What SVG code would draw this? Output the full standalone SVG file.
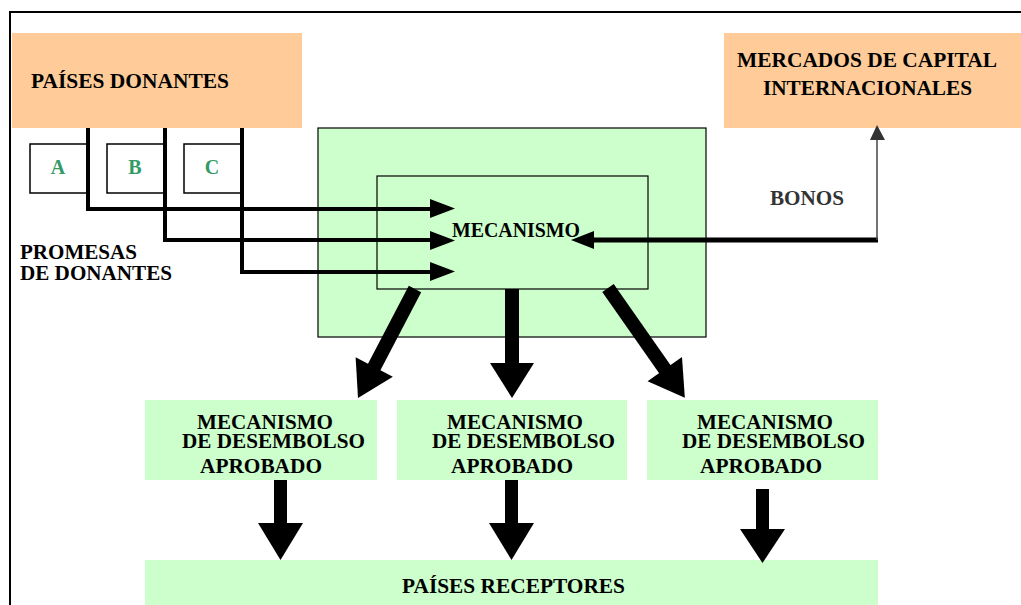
<svg xmlns="http://www.w3.org/2000/svg" width="1021" height="605" viewBox="0 0 1021 605">
<style>
.t{font-family:"Liberation Serif","Times New Roman",serif;font-weight:bold;fill:#000}
.orange{fill:#FFCC99}
.green{fill:#CCFFCC}
.abc{fill:#fff;stroke:#000;stroke-width:1.5}
.letter{font-family:"Liberation Serif","Times New Roman",serif;font-weight:bold;font-size:20px;fill:#339966}
.conn{fill:none;stroke:#000;stroke-width:4}
.big{fill:#000}
</style>
<rect width="1021" height="605" fill="#fff"/>
<path d="M10,605 V12 H1021" fill="none" stroke="#000" stroke-width="2"/>

<g id="paises-donantes">
<rect class="orange" x="12" y="33" width="290" height="95"/>
<text class="t" x="31" y="88" font-size="21" textLength="198" lengthAdjust="spacingAndGlyphs">PAÍSES DONANTES</text>
</g>
<g id="donante-a"><rect class="abc" x="30" y="144" width="58" height="49"/><text class="letter" x="58" y="174" text-anchor="middle">A</text></g>
<g id="donante-b"><rect class="abc" x="107" y="144" width="57" height="49"/><text class="letter" x="135" y="174" text-anchor="middle">B</text></g>
<g id="donante-c"><rect class="abc" x="184" y="144" width="57" height="49"/><text class="letter" x="212" y="174" text-anchor="middle">C</text></g>
<g id="promesas">
<text class="t" x="20" y="259" font-size="21" textLength="117" lengthAdjust="spacingAndGlyphs">PROMESAS</text>
<text class="t" x="20" y="280" font-size="21" textLength="152" lengthAdjust="spacingAndGlyphs">DE DONANTES</text>
</g>

<g id="mercados">
<rect class="orange" x="724" y="33" width="297" height="95"/>
<text class="t" x="737" y="67" font-size="21" textLength="260" lengthAdjust="spacingAndGlyphs">MERCADOS DE CAPITAL</text>
<text class="t" x="763" y="95" font-size="21" textLength="209" lengthAdjust="spacingAndGlyphs">INTERNACIONALES</text>
</g>

<g id="mecanismo">
<rect class="green" x="318" y="128" width="388" height="209" stroke="#000" stroke-width="1.2"/>
<rect class="green" x="377" y="176" width="271" height="113" stroke="#000" stroke-width="1.2"/>
<text class="t" x="452" y="237" font-size="20" textLength="128" lengthAdjust="spacingAndGlyphs">MECANISMO</text>
</g>

<g id="bonos-label">
<text class="t" x="770" y="205" font-size="21" style="fill:#333" textLength="74" lengthAdjust="spacingAndGlyphs">BONOS</text>
</g>

<g id="desembolso-1">
<rect class="green" x="145" y="400" width="232" height="80"/>
<text class="t" x="197" y="429" font-size="21" textLength="136" lengthAdjust="spacingAndGlyphs">MECANISMO</text>
<text class="t" x="182" y="448" font-size="21" textLength="183" lengthAdjust="spacingAndGlyphs">DE DESEMBOLSO</text>
<text class="t" x="200" y="473" font-size="21" textLength="122" lengthAdjust="spacingAndGlyphs">APROBADO</text>
</g>
<g id="desembolso-2">
<rect class="green" x="397" y="400" width="230" height="80"/>
<text class="t" x="447" y="429" font-size="21" textLength="136" lengthAdjust="spacingAndGlyphs">MECANISMO</text>
<text class="t" x="432" y="448" font-size="21" textLength="183" lengthAdjust="spacingAndGlyphs">DE DESEMBOLSO</text>
<text class="t" x="451" y="473" font-size="21" textLength="122" lengthAdjust="spacingAndGlyphs">APROBADO</text>
</g>
<g id="desembolso-3">
<rect class="green" x="647" y="400" width="231" height="80"/>
<text class="t" x="697" y="429" font-size="21" textLength="136" lengthAdjust="spacingAndGlyphs">MECANISMO</text>
<text class="t" x="682" y="448" font-size="21" textLength="183" lengthAdjust="spacingAndGlyphs">DE DESEMBOLSO</text>
<text class="t" x="700" y="473" font-size="21" textLength="122" lengthAdjust="spacingAndGlyphs">APROBADO</text>
</g>

<g id="paises-receptores">
<rect class="green" x="145" y="560" width="733" height="45"/>
<text class="t" x="402" y="593" font-size="21" textLength="223" lengthAdjust="spacingAndGlyphs">PAÍSES RECEPTORES</text>
</g>

<g id="connectors">
<path class="conn" d="M88,128 V209 H432"/>
<polygon class="big" points="430,199 455,208.5 430,218"/>
<path class="conn" d="M165,128 V240 H432"/>
<polygon class="big" points="430,231 455,240.5 430,250"/>
<path class="conn" d="M242,128 V272 H432"/>
<polygon class="big" points="430,262 455,271.5 430,281"/>
<path d="M878,240 H590" fill="none" stroke="#000" stroke-width="5"/>
<polygon class="big" points="594,231 571,240 594,249"/>
<path d="M877,240 V138" fill="none" stroke="#444" stroke-width="1.5"/>
<polygon points="870,140 877,125 885,140" fill="#333"/>

<g transform="translate(415,289) rotate(27.6)">
<rect class="big" x="-7" y="0" width="14" height="90"/>
<polygon class="big" points="-21,88 21,88 0,123"/>
</g>
<g transform="translate(512,289)">
<rect class="big" x="-7" y="0" width="14" height="76"/>
<polygon class="big" points="-22,74 22,74 0,109"/>
</g>
<g transform="translate(608,288) rotate(-35)">
<rect class="big" x="-7" y="0" width="14" height="101"/>
<polygon class="big" points="-21,99 21,99 0,134"/>
</g>

<rect class="big" x="274" y="480" width="13" height="45"/>
<polygon class="big" points="258,523 303,523 280.5,560"/>
<rect class="big" x="505" y="480" width="13" height="45"/>
<polygon class="big" points="489,523 534,523 511.5,560"/>
<rect class="big" x="756" y="489" width="13" height="42"/>
<polygon class="big" points="740,529 785,529 762.5,563"/>
</g>
</svg>
